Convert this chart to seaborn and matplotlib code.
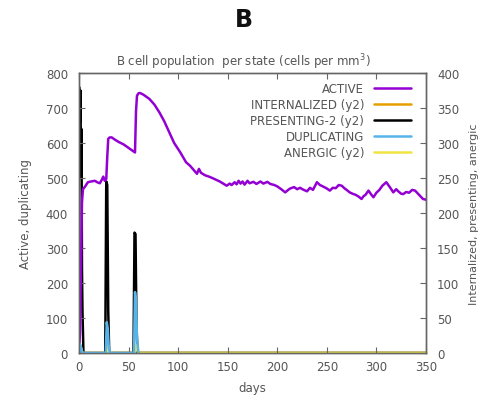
import matplotlib
matplotlib.use("Agg")
import matplotlib.pyplot as plt
import seaborn as sns
import pandas as pd

# ---- data ----
active_days = [0, 1, 2, 3, 4, 6, 9, 12, 16, 19, 21, 23, 24.5, 26, 27.5, 28.5, 29.5, 31, 33, 36,
               40, 45, 50, 54, 56.5, 57.5, 58.5, 60, 61.5, 65, 71, 76, 81, 86, 91, 96, 102, 108,
               112, 116, 119, 121, 123, 127, 132, 136, 142, 149, 152, 154, 157, 159, 161, 163,
               165, 167, 170, 172, 176, 179, 183, 186, 190, 193, 197, 200, 204, 208, 211, 213,
               217, 220, 223, 226, 230, 233, 236, 240, 243, 246, 250, 253, 256, 259, 262, 265,
               268, 270, 273, 276, 279, 282, 285, 287, 289, 292, 295, 297, 300, 303, 306, 310,
               312, 314, 317, 320, 322, 325, 327, 330, 333, 336, 339, 341, 343, 345, 347, 350]
active_vals = [0, 60, 250, 430, 468, 475, 488, 490, 492, 487, 485, 495, 504, 492, 497, 560, 612,
               616, 616, 610, 603, 596, 586, 578, 573, 690, 735, 742, 743, 738, 726, 710, 688,
               662, 631, 600, 574, 545, 535, 522, 512, 526, 515, 508, 503, 498, 490, 478, 484,
               480, 488, 482, 492, 484, 490, 481, 492, 485, 489, 483, 490, 484, 489, 483, 480,
               476, 468, 459, 466, 470, 474, 468, 472, 467, 462, 472, 466, 488, 480, 476, 470,
               464, 472, 471, 480, 478, 470, 466, 459, 455, 452, 447, 440, 448, 452, 464, 452,
               445, 458, 466, 478, 488, 480, 472, 459, 468, 462, 455, 454, 460, 458, 466, 464,
               458, 452, 446, 440, 438]

internalized_days = [0, 1, 2, 3, 350]
internalized_vals = [14, 9, 3, 0, 0]

presenting_days = [0, 0.5, 1, 1.5, 2, 2.5, 3, 3.5, 4.5, 26.5, 27.5, 28.5, 29.5, 30.5, 55, 56,
                   57, 58, 59, 350]
presenting_vals = [380, 379, 330, 375, 250, 320, 120, 60, 0, 0, 245, 240, 60, 0, 0, 172, 170,
                   40, 0, 0]

duplicating_days = [0, 1, 2, 3, 4, 27, 28, 29, 30, 31, 55.5, 56.5, 57.5, 58.5, 60]
duplicating_vals = [0, 25, 15, 5, 0, 0, 88, 70, 20, 0, 0, 174, 150, 40, 0]

anergic_days = [0, 1, 2, 3.5, 27.5, 29, 30.5, 56.5, 58, 60, 350]
anergic_vals = [0, 12, 8, 0, 0, 10, 0, 0, 12, 0, 0]

x_ticks = [0, 50, 100, 150, 200, 250, 300, 350]
y1_ticks = [0, 100, 200, 300, 400, 500, 600, 700, 800]
y2_ticks = [0, 50, 100, 150, 200, 250, 300, 350, 400]

# ---- style ----
sns.set_style("white")
plt.rcParams["font.family"] = ["DejaVu Sans"]
txt = "#555555"

fig = plt.figure(figsize=(4.87, 4.02), dpi=100)
ax = fig.add_axes([0.1622, 0.1194, 0.7125, 0.6965])
ax2 = ax.twinx()
ax.set_zorder(ax2.get_zorder() + 1)
ax.patch.set_visible(False)

c_act, c_int, c_pre, c_dup, c_ane = "#9400d3", "#e69f00", "#000000", "#56b4e9", "#f0e442"
lw = 1.8

sns.lineplot(data=pd.DataFrame({"d": internalized_days, "v": internalized_vals}), x="d", y="v",
             ax=ax2, color=c_int, lw=lw, label="INTERNALIZED (y2)", legend=False)
sns.lineplot(data=pd.DataFrame({"d": presenting_days, "v": presenting_vals}), x="d", y="v",
             ax=ax2, color=c_pre, lw=lw, label="PRESENTING-2 (y2)", legend=False)
sns.lineplot(data=pd.DataFrame({"d": anergic_days, "v": anergic_vals}), x="d", y="v",
             ax=ax2, color=c_ane, lw=lw, label="ANERGIC (y2)", legend=False)
sns.lineplot(data=pd.DataFrame({"d": active_days, "v": active_vals}), x="d", y="v",
             ax=ax, color=c_act, lw=lw, label="ACTIVE", legend=False)
sns.lineplot(data=pd.DataFrame({"d": duplicating_days, "v": duplicating_vals}), x="d", y="v",
             ax=ax, color=c_dup, lw=lw, label="DUPLICATING", legend=False)

ax.set_xlim(0, 350)
ax.set_ylim(0, 800)
ax2.set_ylim(0, 400)
ax.set_xticks(x_ticks)
ax.set_yticks(y1_ticks)
ax2.set_yticks(y2_ticks)

for a in (ax, ax2):
    for s in a.spines.values():
        s.set_color("#666666")
        s.set_linewidth(1.0)
        s.set_visible(True)
ax.tick_params(axis="x", direction="in", length=4, color="#666666", labelcolor=txt,
               labelsize=8.5, top=True, bottom=True, pad=5)
ax.tick_params(axis="y", direction="in", length=4, color="#666666", labelcolor=txt,
               labelsize=8.5, left=True, right=False, pad=8)
ax2.tick_params(axis="y", direction="in", length=4, color="#666666", labelcolor=txt,
                labelsize=8.5, right=True, left=False, pad=8)

ax.set_xlabel("days", color=txt, fontsize=8.5, labelpad=6)
ax.set_ylabel("Active, duplicating", color=txt, fontsize=8.5, labelpad=10)
ax2.set_ylabel("Internalized, presenting, anergic", color=txt, fontsize=8, labelpad=7)

h1, l1 = ax.get_legend_handles_labels()
h2, l2 = ax2.get_legend_handles_labels()
hmap = dict(zip(l1 + l2, h1 + h2))
order = ["ACTIVE", "INTERNALIZED (y2)", "PRESENTING-2 (y2)", "DUPLICATING", "ANERGIC (y2)"]
leg = ax.legend([hmap[k] for k in order], order, loc="upper right", frameon=False,
                markerfirst=False, fontsize=8.5, handlelength=3.2, labelspacing=0.25,
                borderaxespad=0.4, bbox_to_anchor=(0.985, 1.0))
for t in leg.get_texts():
    t.set_color(txt)
    t.set_ha("right")

fig.text(0.5, 0.95, "B", ha="center", va="center", fontsize=17, fontweight="bold", color="#111111")
fig.text(0.5, 0.845, "B cell population  per state (cells per mm$^3$)", ha="center", va="center",
         fontsize=8.5, color=txt)

fig.savefig("out.png", dpi=100)
